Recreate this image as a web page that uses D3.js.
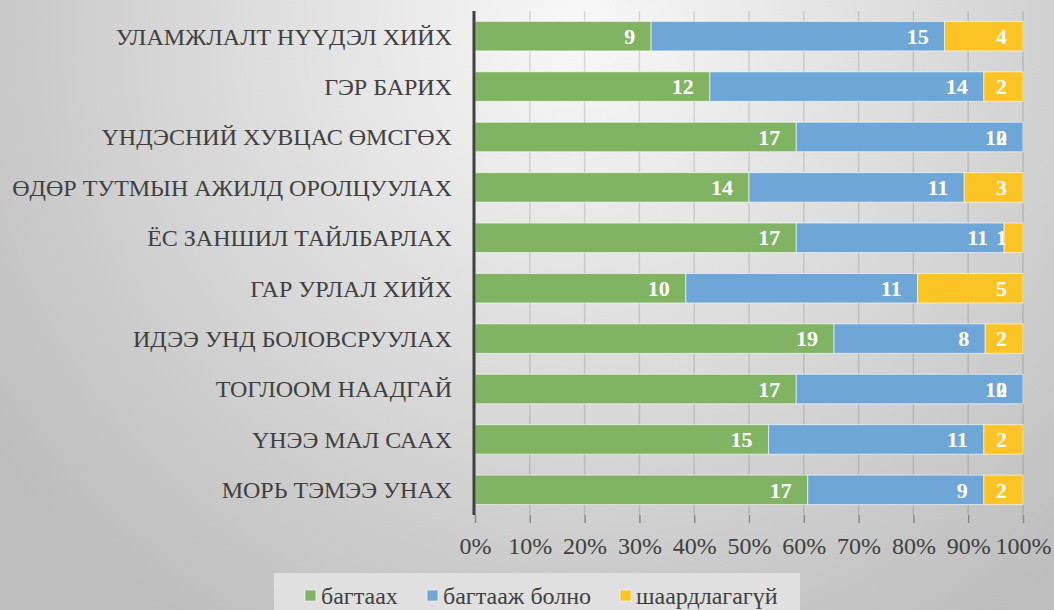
<!DOCTYPE html>
<html>
<head>
<meta charset="utf-8">
<script src="https://cdn.jsdelivr.net/npm/d3@7"></script>
<style>
  body { margin: 0; }
  svg text { font-family: "Liberation Serif", "DejaVu Serif", serif !important; }
</style>
</head>
<body>
<svg class="chart"></svg>
<script>
// categories top to bottom
const categories = [
  "УЛАМЖЛАЛТ НҮҮДЭЛ ХИЙХ",
  "ГЭР БАРИХ",
  "ҮНДЭСНИЙ ХУВЦАС ӨМСГӨХ",
  "ӨДӨР ТУТМЫН АЖИЛД ОРОЛЦУУЛАХ",
  "ЁС ЗАНШИЛ ТАЙЛБАРЛАХ",
  "ГАР УРЛАЛ ХИЙХ",
  "ИДЭЭ УНД БОЛОВСРУУЛАХ",
  "ТОГЛООМ НААДГАЙ",
  "ҮНЭЭ МАЛ СААХ",
  "МОРЬ ТЭМЭЭ УНАХ"
];
const bagtaah = [9, 12, 17, 14, 17, 10, 19, 17, 15, 17];
const bagtaajBolno = [15, 14, 12, 11, 11, 11, 8, 12, 11, 9];
const shaardlagagui = [4, 2, 0, 3, 1, 5, 2, 0, 2, 2];
const seriesNames = ["багтаах", "багтааж болно", "шаардлагагүй"];
const colors = ["#80b463", "#6fa6d8", "#fbc424"];
const ticks = [0, 0.1, 0.2, 0.3, 0.4, 0.5, 0.6, 0.7, 0.8, 0.9, 1];

const width = 1054, height = 610;
const margin = { top: 11, right: 31, bottom: 95, left: 475 };
const serif = "Liberation Serif, DejaVu Serif, serif";

const svg = d3.select(".chart").attr("width", width).attr("height", height);

// background gradient
const defs = svg.append("defs");
const grad = defs.append("radialGradient")
  .attr("id", "bg")
  .attr("gradientUnits", "userSpaceOnUse")
  .attr("cx", 580).attr("cy", 30).attr("r", 720);
grad.append("stop").attr("offset", "0%").attr("stop-color", "#f8f8f8");
grad.append("stop").attr("offset", "100%").attr("stop-color", "#bdbdbd");
svg.append("rect").attr("width", width).attr("height", height).attr("fill", "url(#bg)");

const rows = categories.map((c, i) => ({
  cat: c,
  vals: [bagtaah[i], bagtaajBolno[i], shaardlagagui[i]]
}));
rows.forEach(r => {
  const tot = d3.sum(r.vals);
  let acc = 0;
  r.segs = r.vals.map((v, k) => {
    const s = { k, v, x0: acc / tot, x1: (acc + v) / tot };
    acc += v;
    return s;
  });
});

const x = d3.scaleLinear().domain([0, 1]).range([margin.left, width - margin.right]);
const y = d3.scaleBand().domain(categories)
  .range([margin.top, height - margin.bottom])
  .paddingInner(0.415).paddingOuter(0.207);

// gridlines
svg.append("g")
  .selectAll("line")
  .data(ticks.slice(1))
  .join("line")
  .attr("x1", d => x(d)).attr("x2", d => x(d))
  .attr("y1", margin.top).attr("y2", height - margin.bottom)
  .attr("stroke", "#000").attr("stroke-opacity", 0.12).attr("stroke-width", 1.5);

// bars
const g = svg.append("g");
rows.forEach(r => {
  g.selectAll(null)
    .data(r.segs)
    .join("rect")
    .attr("x", d => x(d.x0))
    .attr("y", y(r.cat))
    .attr("width", d => x(d.x1) - x(d.x0))
    .attr("height", y.bandwidth())
    .attr("fill", d => colors[d.k])
    .attr("stroke", d => d.v > 0 ? "rgba(255,255,255,0.6)" : "none")
    .attr("stroke-width", 1);
});

// value labels (inside end, like the original; the 0 lands on top of 12)
rows.forEach(r => {
  g.selectAll(null)
    .data(r.segs)
    .join("text")
    .attr("x", d => x(d.x1) - 16)
    .attr("y", y(r.cat) + y.bandwidth() / 2)
    .attr("dy", "0.35em")
    .attr("text-anchor", "end")
    .attr("fill", "#fff")
    .attr("font-family", serif)
    .style("font-size", "22px")
    .style("font-weight", "bold")
    .text(d => d.v);
});

// category labels
svg.append("g")
  .selectAll("text")
  .data(categories)
  .join("text")
  .attr("x", 452)
  .attr("y", d => y(d) + y.bandwidth() / 2)
  .attr("dy", "0.35em")
  .attr("text-anchor", "end")
  .attr("fill", "#404040")
  .attr("font-family", serif)
  .style("font-size", "24px")
  .text(d => d);

// x axis
const xAxis = svg.append("g")
  .attr("transform", `translate(0,${height - margin.bottom})`)
  .call(d3.axisBottom(x).tickValues(ticks).tickFormat(d3.format(".0%")).tickSize(8).tickPadding(14));
xAxis.select(".domain").remove();
xAxis.attr("font-family", serif);
xAxis.selectAll(".tick line").attr("stroke", "#8a8a8a").attr("stroke-width", 1.5);
xAxis.selectAll(".tick text")
  .attr("fill", "#404040")
  .style("font-size", "24px");

// vertical axis line
svg.append("line")
  .attr("x1", margin.left - 1).attr("x2", margin.left - 1)
  .attr("y1", margin.top).attr("y2", height - margin.bottom)
  .attr("stroke", "#404040").attr("stroke-width", 3);

// legend
svg.append("rect")
  .attr("x", 274).attr("y", 573).attr("width", 526).attr("height", 37)
  .attr("fill", "#e0e0e0");
const legendX = [305, 427, 620];
const legend = svg.append("g")
  .selectAll("g")
  .data(seriesNames)
  .join("g")
  .attr("transform", (d, i) => `translate(${legendX[i]},590)`);
legend.append("rect")
  .attr("width", 11).attr("height", 11)
  .attr("fill", (d, i) => colors[i])
  .attr("stroke", "rgba(255,255,255,0.6)");
legend.append("text")
  .attr("x", 16).attr("y", 6).attr("dy", "0.35em")
  .attr("fill", "#404040")
  .attr("font-family", serif)
  .style("font-size", "24px")
  .text(d => d);
</script>
</body>
</html>
